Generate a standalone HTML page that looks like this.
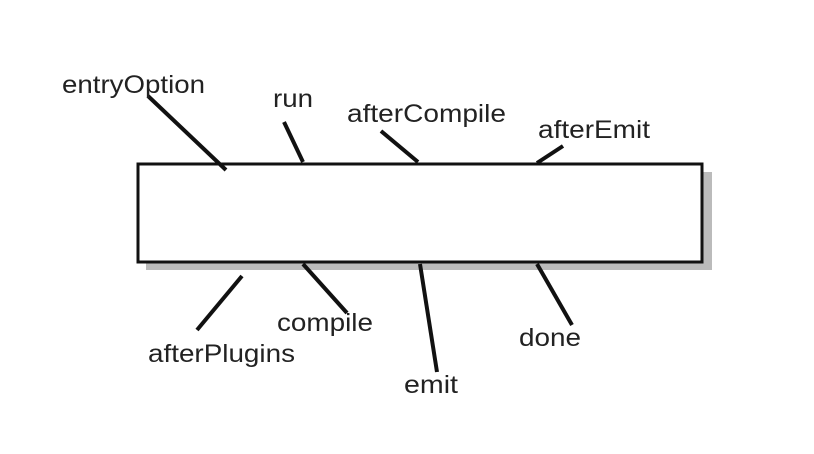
<!DOCTYPE html>
<html><head><meta charset="utf-8"><style>
html,body{margin:0;padding:0;background:#fff;}
svg{display:block;}
text{font-family:"Liberation Sans",Arial,sans-serif;font-size:25px;fill:#222;}
</style></head><body>
<svg width="814" height="454" viewBox="0 0 814 454" xmlns="http://www.w3.org/2000/svg">
<rect width="814" height="454" fill="#fff"/>
<rect x="146" y="172" width="566" height="98" fill="#bbb"/>
<rect x="138" y="164" width="564" height="98" fill="#fff" stroke="#111" stroke-width="3"/>
<g stroke="#111" stroke-width="4" stroke-linecap="butt">
<line x1="148" y1="96" x2="226" y2="170"/>
<line x1="284" y1="122" x2="303" y2="162"/>
<line x1="381" y1="131" x2="418" y2="162"/>
<line x1="563" y1="146" x2="537" y2="163"/>
<line x1="242" y1="276" x2="197" y2="330"/>
<line x1="303" y1="264" x2="347" y2="313"/>
<line x1="420" y1="264" x2="437" y2="372"/>
<line x1="537" y1="264" x2="572" y2="325"/>
</g>
<text x="62" y="93" textLength="143" lengthAdjust="spacingAndGlyphs">entryOption</text>
<text x="273" y="107" textLength="40" lengthAdjust="spacingAndGlyphs">run</text>
<text x="347" y="122" textLength="159" lengthAdjust="spacingAndGlyphs">afterCompile</text>
<text x="538" y="138" textLength="112" lengthAdjust="spacingAndGlyphs">afterEmit</text>
<text x="148" y="362" textLength="147" lengthAdjust="spacingAndGlyphs">afterPlugins</text>
<text x="277" y="331" textLength="96" lengthAdjust="spacingAndGlyphs">compile</text>
<text x="404" y="393" textLength="54" lengthAdjust="spacingAndGlyphs">emit</text>
<text x="519" y="346" textLength="62" lengthAdjust="spacingAndGlyphs">done</text>
</svg>
</body></html>
